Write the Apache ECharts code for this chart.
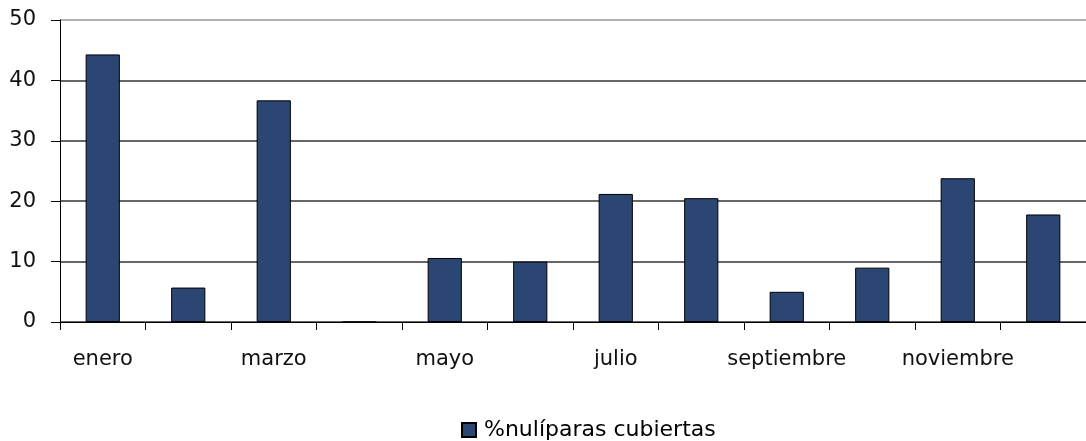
<!DOCTYPE html>
<html>
<head>
<meta charset="utf-8">
<script src="https://cdn.jsdelivr.net/npm/echarts@6/dist/echarts.min.js"></script>
<style>
html,body{margin:0;padding:0;background:#fff;}
#chart{width:1086px;height:441px;}
</style>
</head>
<body>
<div id="chart"></div>
<script>
const categories = ['enero','febrero','marzo','abril','mayo','junio','julio','agosto','septiembre','octubre','noviembre','diciembre'];
const seriesName = '%nulíparas cubiertas';
const values = [44.3, 5.7, 36.7, 0, 10.6, 10.0, 21.2, 20.5, 5.0, 9.0, 23.8, 17.8];
const yTicks = [0, 10, 20, 30, 40, 50];

const chart = echarts.init(document.getElementById('chart'));
const font = 'DejaVu Sans';
chart.setOption({
  animation: false,
  backgroundColor: '#fff',
  grid: { left: 60, top: 20, width: 1030, bottom: 119, containLabel: false },
  legend: {
    data: [seriesName],
    top: 414,
    left: 456,
    itemWidth: 14,
    itemHeight: 14,
    icon: 'rect',
    textStyle: { fontFamily: font, fontSize: 22, color: '#000', padding: [0, 0, 0, 3] }
  },
  xAxis: {
    type: 'category',
    data: categories,
    boundaryGap: true,
    axisLine: { show: true, lineStyle: { color: '#000', width: 1 } },
    axisTick: { show: true, interval: 0, length: 8, lineStyle: { color: '#000' } },
    axisLabel: { interval: 1, color: '#111', fontFamily: font, fontSize: 21, margin: 27 },
    splitLine: { show: false }
  },
  yAxis: {
    type: 'value',
    min: yTicks[0],
    max: yTicks[yTicks.length - 1],
    interval: 10,
    axisLine: { show: true, lineStyle: { color: '#000', width: 1 } },
    axisTick: { show: true, length: 9, lineStyle: { color: '#000' } },
    axisLabel: { color: '#111', fontFamily: font, fontSize: 21, margin: 24 },
    splitLine: { show: true, lineStyle: { color: ['#333','#333','#333','#333','#333','#999'], width: 1.5 } }
  },
  series: [{
    name: seriesName,
    type: 'bar',
    data: values,
    barWidth: '40%',
    itemStyle: { color: '#2C4674', borderColor: '#000', borderWidth: 1 }
  }]
});
</script>
</body>
</html>
